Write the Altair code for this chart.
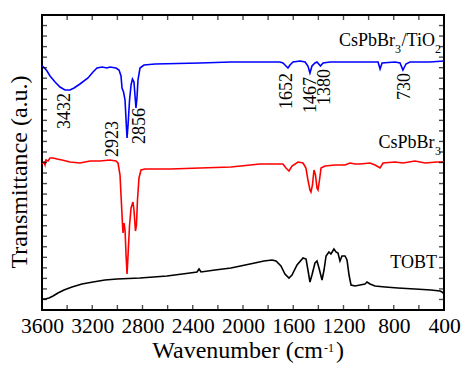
import altair as alt
import pandas as pd

# ---------------- data ----------------
blue_wn = [3600, 3580, 3560, 3536, 3496, 3457, 3417, 3377, 3345, 3298, 3234, 3194, 3162, 3122,
           3083, 3059, 3011, 2987, 2971, 2963, 2951, 2939, 2931, 2923, 2915, 2903, 2891, 2880,
           2868, 2860, 2852, 2844, 2836, 2820, 2788, 2700, 2342, 2096, 1706, 1682, 1658, 1642,
           1626, 1602, 1546, 1506, 1483, 1467, 1451, 1427, 1411, 1383, 1363, 1307, 1069, 925,
           909, 893, 790, 750, 727, 703, 671, 512, 400]
blue_t = [244, 242, 239, 234, 228, 223, 220, 220, 222, 226, 232, 238, 242, 243,
          242, 243, 242, 240, 234, 222, 218, 210, 190, 172, 185, 210, 225, 231,
          228, 215, 202, 212, 230, 242, 245, 246, 247, 248, 248, 247, 244, 242,
          245, 248, 249, 248, 244, 237, 244, 247, 248, 244, 247, 248, 248, 248,
          241, 247, 248, 247, 240, 246, 248, 248, 249]

red_wn = [3600, 3584, 3576, 3568, 3552, 3536, 3512, 3480, 3441, 3377, 3298, 3218, 3138, 3059,
          3011, 2995, 2979, 2971, 2959, 2955, 2947, 2939, 2931, 2923, 2915, 2903, 2891, 2876,
          2868, 2856, 2848, 2840, 2828, 2812, 2780, 2581, 2342, 2096, 1865, 1682, 1658, 1634,
          1610, 1562, 1522, 1499, 1483, 1467, 1459, 1447, 1435, 1423, 1411, 1403, 1391, 1379,
          1347, 1268, 1188, 1148, 1108, 1069, 989, 949, 909, 885, 790, 727, 631, 551, 456, 400]
red_t = [146, 148, 145, 150, 149, 152, 152, 151, 150, 148, 147, 149, 149, 150,
         149, 147, 135, 115, 85, 77, 87, 80, 55, 36, 55, 85, 102, 108,
         100, 79, 85, 110, 132, 140, 141, 141, 142, 143, 146, 146, 142, 139,
         144, 148, 147, 142, 130, 120, 118, 125, 140, 135, 122, 120, 130, 142,
         144, 145, 145, 147, 146, 146, 147, 145, 142, 147, 148, 147, 149, 147, 148, 148]

black_wn = [3600, 3576, 3544, 3512, 3473, 3425, 3361, 3282, 3194, 3099, 3003, 2820, 2605, 2422,
            2366, 2350, 2334, 2223, 2096, 1944, 1833, 1769, 1737, 1698, 1666, 1634, 1610, 1570,
            1522, 1498, 1483, 1467, 1451, 1427, 1411, 1395, 1371, 1355, 1339, 1316, 1300, 1276,
            1260, 1244, 1228, 1212, 1188, 1172, 1156, 1140, 1108, 1069, 1029, 1013, 989, 949,
            869, 767, 631, 504, 432, 416, 400]
black_t = [11, 11, 12, 14, 17, 20, 23, 26, 28, 30, 31, 32, 34, 37,
           38, 41, 38, 40, 42, 46, 49, 50, 49, 44, 36, 32, 35, 45,
           52, 51, 40, 28, 35, 47, 49, 42, 30, 40, 54, 58, 56, 61,
           58, 57, 49, 54, 54, 50, 35, 25, 24, 25, 26, 28, 26, 24,
           23, 22, 21, 20, 19, 18, 16]

series_names = ["CsPbBr3/TiO2", "CsPbBr3", "TOBT"]
series_colors = ["#0000ff", "#ff0000", "#000000"]

peak_labels = ["3432", "2923", "2856", "1652", "1467", "1380", "730"]
peak_label_wn = [3413, 3031, 2816, 1646, 1459, 1347, 714]
peak_label_top = [217, 189, 202, 237, 233, 241, 237]

x_tick_labels = [400, 800, 1200, 1600, 2000, 2400, 2800, 3200, 3600]
x_minor_ticks = list(range(400, 3601, 200))
n_y_ticks = 28

FONT = "Liberation Serif"

# ---------------- build tables ----------------
curves = pd.concat([
    pd.DataFrame({"wn": blue_wn, "t": blue_t, "series": series_names[0]}),
    pd.DataFrame({"wn": red_wn, "t": red_t, "series": series_names[1]}),
    pd.DataFrame({"wn": black_wn, "t": black_t, "series": series_names[2]}),
])

x_scale = alt.Scale(domain=[400, 3600], reverse=True, nice=False, zero=False)
y_scale = alt.Scale(domain=[0, 295], nice=False, zero=False)
x_axis = alt.Axis(values=x_tick_labels, format="d", ticks=False, domain=False, grid=False,
                  labelFont=FONT, labelFontSize=21.5, labelColor="black",
                  labelPadding=5, labelFlush=False, labelOverlap=False, title=None)

def X(f="wn"):
    return alt.X(f + ":Q", scale=x_scale, axis=x_axis)

def Y(f="t"):
    return alt.Y(f + ":Q", scale=y_scale, axis=None)

lines = alt.Chart(curves).mark_line(strokeWidth=1.6).encode(
    x=X(), y=Y(),
    color=alt.Color("series:N", scale=alt.Scale(domain=series_names, range=series_colors), legend=None),
)

# inward ticks on all four sides
TL = 5
xt_df = pd.DataFrame({"wn": x_minor_ticks})
y_vals = [i * 295 / n_y_ticks for i in range(1, n_y_ticks)]
yt_df = pd.DataFrame({"t": y_vals})
tick_bottom = alt.Chart(xt_df).mark_tick(color="black", thickness=1.4, size=TL, orient="vertical",
                                         yOffset=-TL / 2).encode(x=X(), y=alt.value(295))
tick_top = alt.Chart(xt_df).mark_tick(color="black", thickness=1.4, size=TL, orient="vertical",
                                      yOffset=TL / 2).encode(x=X(), y=alt.value(0))
tick_left = alt.Chart(yt_df).mark_tick(color="black", thickness=1.4, size=TL, orient="horizontal",
                                       xOffset=TL / 2).encode(y=Y(), x=alt.value(0))
tick_right = alt.Chart(yt_df).mark_tick(color="black", thickness=1.4, size=TL, orient="horizontal",
                                        xOffset=-TL / 2).encode(y=Y(), x=alt.value(402))

peaks = alt.Chart(pd.DataFrame({"wn": peak_label_wn, "t": peak_label_top, "label": peak_labels})).mark_text(
    angle=270, align="right", baseline="middle", font=FONT, fontSize=18, color="black"
).encode(x=X(), y=Y(), text="label:N")

# series labels with subscripts: (text, font size, dx, dy) pieces, anchored at right end
label_anchor_wn = [424, 424, 456]
label_anchor_t = [264, 162, 42]
label_pieces = [
    [("2", 12, 0, 7), ("/TiO", 18, -6, 0), ("3", 12, -40, 7), ("CsPbBr", 18, -46, 0)],
    [("3", 12, 0, 7), ("CsPbBr", 18, -6.5, 0)],
    [("TOBT", 18, 0, 0)],
]
label_layers = []
for aw, at, pieces in zip(label_anchor_wn, label_anchor_t, label_pieces):
    for txt, fs, dx, dy in pieces:
        label_layers.append(
            alt.Chart(pd.DataFrame({"wn": [aw], "t": [at], "txt": [txt]})).mark_text(
                align="right", baseline="alphabetic", font=FONT, fontSize=fs,
                dx=dx, dy=dy, color="black"
            ).encode(x=X(), y=Y(), text="txt:N")
        )

# axis titles
one = pd.DataFrame({"a": [0]})
xt1 = alt.Chart(one).mark_text(text="Wavenumber (cm", align="right", baseline="alphabetic",
                               font=FONT, fontSize=24, color="black").encode(
    x=alt.value(281), y=alt.value(343))
xt2 = alt.Chart(one).mark_text(text="-1", align="left", baseline="alphabetic",
                               font=FONT, fontSize=12, color="black").encode(
    x=alt.value(282), y=alt.value(337))
xt3 = alt.Chart(one).mark_text(text=")", align="left", baseline="alphabetic",
                               font=FONT, fontSize=24, color="black").encode(
    x=alt.value(294), y=alt.value(343))
yt = alt.Chart(one).mark_text(text="Transmittance (a.u.)", align="center", baseline="alphabetic",
                              angle=270, font=FONT, fontSize=24, color="black").encode(
    x=alt.value(-15), y=alt.value(157))

chart = alt.layer(lines, tick_bottom, tick_top, tick_left, tick_right, peaks, *label_layers,
                  xt1, xt2, xt3, yt).properties(
    width=402, height=295,
    autosize=alt.AutoSizeParams(type="none"),
    padding={"left": 42, "top": 15, "right": 18, "bottom": 56},
    background="white",
).configure_view(stroke="black", strokeWidth=2)

chart.save("out.html", embed_options={"renderer": "svg", "actions": False})
